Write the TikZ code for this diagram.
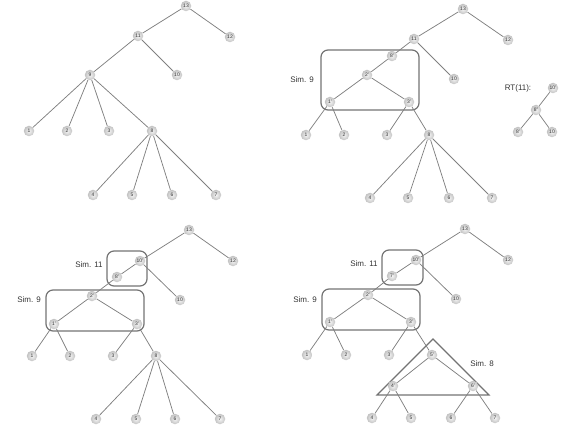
\documentclass[tikz,border=0pt]{standalone}
\usepackage{fontspec}
\setmainfont{Liberation Sans}
\begin{document}
\begin{tikzpicture}[x=1pt,y=-1pt,
  nd/.style={circle,inner sep=0pt,minimum size=10.5pt,inner color=gray!8,outer color=gray!48,text=black!80,font=\fontsize{5}{5}\selectfont},
  ed/.style={draw=black!50,line width=0.75pt},
  simbox/.style={draw=black!55,line width=1.2pt,rounded corners=7pt},
  lbl/.style={font=\fontsize{8}{9}\selectfont,text=black!80,inner sep=0pt}]
\useasboundingbox (0,0) rectangle (569,427);
% ---------- Panel 1 ----------
\node[nd] (a13) at (186,6) {13};
\node[nd] (a11) at (138,36) {11};
\node[nd] (a12) at (230,37) {12};
\node[nd] (a9) at (90,75) {9};
\node[nd] (a10) at (177,75) {10};
\node[nd] (a1) at (29,131) {1};
\node[nd] (a2) at (67,131) {2};
\node[nd] (a3) at (109,131) {3};
\node[nd] (a8) at (152,131) {8};
\node[nd] (a4) at (93,195) {4};
\node[nd] (a5) at (132,195) {5};
\node[nd] (a6) at (172,195) {6};
\node[nd] (a7) at (216,195) {7};
\draw[ed] (a13)--(a11) (a13)--(a12) (a11)--(a9) (a11)--(a10)
  (a9)--(a1) (a9)--(a2) (a9)--(a3) (a9)--(a8)
  (a8)--(a4) (a8)--(a5) (a8)--(a6) (a8)--(a7);
% ---------- Panel 2 ----------
\draw[simbox] (321,50) rectangle (419,110);
\node[lbl] (b9l) at (302,80) {Sim. 9};
\node[nd] (b13) at (463,9) {13};
\node[nd] (b11) at (414,39) {11};
\node[nd] (b12) at (508,40) {12};
\node[nd] (b8p) at (392,56) {8'};
\node[nd] (b10) at (454,79) {10};
\node[nd] (b2p) at (367,75) {2'};
\node[nd] (b1p) at (330,102) {1'};
\node[nd] (b3p) at (409,102) {3'};
\node[nd] (b1) at (306,135) {1};
\node[nd] (b2) at (344,135) {2};
\node[nd] (b3) at (387,135) {3};
\node[nd] (b8) at (429,135) {8};
\node[nd] (b4) at (370,198) {4};
\node[nd] (b5) at (408,198) {5};
\node[nd] (b6) at (449,198) {6};
\node[nd] (b7) at (492,198) {7};
\draw[ed] (b13)--(b11) (b13)--(b12) (b11)--(b8p) (b11)--(b10)
  (b8p)--(b2p) (b2p)--(b1p) (b2p)--(b3p)
  (b1p)--(b1) (b1p)--(b2) (b3p)--(b3) (b3p)--(b8)
  (b8)--(b4) (b8)--(b5) (b8)--(b6) (b8)--(b7);
% RT(11)
\node[lbl] (rtl) at (518,88) {RT(11):};
\node[nd] (r10p) at (553,88) {10'};
\node[nd] (r8pp) at (536,110) {8''};
\node[nd] (r8p) at (518,132) {8'};
\node[nd] (r10) at (552,132) {10};
\draw[ed] (r10p)--(r8pp) (r8pp)--(r8p) (r8pp)--(r10);
% ---------- Panel 3 ----------
\draw[simbox] (107,251) rectangle (147,286);
\draw[simbox] (46,290) rectangle (144,331);
\node[lbl] (c11l) at (89,265) {Sim. 11};
\node[lbl] (c9l) at (29,300) {Sim. 9};
\node[nd] (c13) at (189,230) {13};
\node[nd] (c12) at (233,261) {12};
\node[nd] (c10p) at (140,261) {10'};
\node[nd] (c8p) at (117,277) {8'};
\node[nd] (c10) at (180,300) {10};
\node[nd] (c2p) at (92,296) {2'};
\node[nd] (c1p) at (54,324) {1'};
\node[nd] (c3p) at (137,324) {3'};
\node[nd] (c1) at (32,356) {1};
\node[nd] (c2) at (70,356) {2};
\node[nd] (c3) at (113,356) {3};
\node[nd] (c8) at (156,356) {8};
\node[nd] (c4) at (96,419) {4};
\node[nd] (c5) at (136,419) {5};
\node[nd] (c6) at (175,419) {6};
\node[nd] (c7) at (220,419) {7};
\draw[ed] (c13)--(c10p) (c13)--(c12) (c10p)--(c8p) (c10p)--(c10)
  (c8p)--(c2p) (c2p)--(c1p) (c2p)--(c3p)
  (c1p)--(c1) (c1p)--(c2) (c3p)--(c3) (c3p)--(c8)
  (c8)--(c4) (c8)--(c5) (c8)--(c6) (c8)--(c7);
% ---------- Panel 4 ----------
\draw[simbox] (382,250) rectangle (423,285);
\draw[simbox] (322,289) rectangle (420,330);
\draw[draw=black!55,line width=1.2pt,line join=miter] (433,339) -- (377,395) -- (489,395) -- cycle;
\node[lbl] (d11l) at (364,264) {Sim. 11};
\node[lbl] (d9l) at (305,300) {Sim. 9};
\node[lbl] (d8l) at (482,364) {Sim. 8};
\node[nd] (d13) at (465,229) {13};
\node[nd] (d12) at (508,260) {12};
\node[nd] (d10p) at (416,260) {10'};
\node[nd] (d7p) at (392,276) {7'};
\node[nd] (d10) at (456,299) {10};
\node[nd] (d2p) at (368,295) {2'};
\node[nd] (d1p) at (330,322) {1'};
\node[nd] (d3p) at (411,322) {3'};
\node[nd] (d1) at (307,355) {1};
\node[nd] (d2) at (346,355) {2};
\node[nd] (d3) at (389,355) {3};
\node[nd] (d5p) at (432,355) {5'};
\node[nd] (d4p) at (393,386) {4'};
\node[nd] (d6p) at (473,386) {6'};
\node[nd] (d4) at (372,418) {4};
\node[nd] (d5) at (411,418) {5};
\node[nd] (d6) at (451,418) {6};
\node[nd] (d7) at (495,418) {7};
\draw[ed] (d13)--(d10p) (d13)--(d12) (d10p)--(d7p) (d10p)--(d10)
  (d7p)--(d2p) (d2p)--(d1p) (d2p)--(d3p)
  (d1p)--(d1) (d1p)--(d2) (d3p)--(d3) (d3p)--(d5p)
  (d5p)--(d4p) (d5p)--(d6p) (d4p)--(d4) (d4p)--(d5) (d6p)--(d6) (d6p)--(d7);
\end{tikzpicture}
\end{document}
